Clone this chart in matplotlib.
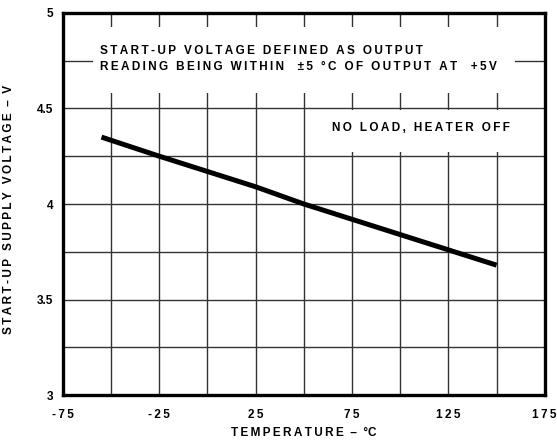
import matplotlib.pyplot as plt
from matplotlib.patches import Rectangle

# start-up supply voltage vs temperature
temps = [-55, -25, 0, 25, 50, 75, 100, 125, 150]
volts = [4.35, 4.25, 4.17, 4.09, 4.00, 3.92, 3.84, 3.76, 3.68]

x_ticks = [-75, -25, 25, 75, 125, 175]
x_labels = ['-75', '-25', '25', '75', '125', '175']
y_ticks = [3, 3.5, 4, 4.5, 5]
y_labels = ['3', '3.5', '4', '4.5', '5']

plt.rcParams['font.family'] = ['Liberation Sans', 'DejaVu Sans']
plt.rcParams['font.weight'] = 'bold'


def spaced(s):
    # wide letter spacing like the datasheet font
    return '\u2009'.join(s)


fig = plt.figure(figsize=(5.57, 4.43), dpi=100)
ax = fig.add_axes([0.113, 0.108, 0.865, 0.863])

ax.set_xlim(-75, 175)
ax.set_ylim(3, 5)

# grid every 25 degC / 0.25 V
for gx in range(-50, 175, 25):
    ax.axvline(gx, color='#333333', lw=1.0, zorder=1)
for gy in [3.25, 3.5, 3.75, 4.0, 4.25, 4.5, 4.75]:
    ax.axhline(gy, color='#333333', lw=1.0, zorder=1)

# white boxes behind the notes (blank out grid)
ax.add_patch(Rectangle((0.062, 0.79), 0.876, 0.173, transform=ax.transAxes,
                       facecolor='white', edgecolor='none', zorder=2))
ax.add_patch(Rectangle((0.537, 0.636), 0.47, 0.11, transform=ax.transAxes,
                       facecolor='white', edgecolor='none', zorder=2))

ax.plot(temps, volts, color='black', lw=3.6, solid_capstyle='butt', zorder=3)

note1 = spaced('START-UP VOLTAGE DEFINED AS OUTPUT') + '\n' + \
    spaced('READING BEING WITHIN  \u00b15 \u00b0C OF OUTPUT AT  +5V')
ax.text(0.076, 0.88, note1, transform=ax.transAxes, fontsize=8.5,
        fontweight='bold', va='center', ha='left', linespacing=1.45, zorder=4)
ax.text(0.558, 0.699, spaced('NO LOAD, HEATER OFF'), transform=ax.transAxes,
        fontsize=8.5, fontweight='bold', va='center', ha='left', zorder=4)

ax.set_xticks(x_ticks)
ax.set_xticklabels([spaced(t) for t in x_labels], fontsize=8.5, fontweight='bold')
ax.set_yticks(y_ticks)
ax.set_yticklabels(y_labels, fontsize=8.5, fontweight='bold')
ax.tick_params(axis='x', length=0, pad=10)
ax.tick_params(axis='y', length=0, pad=7)

ax.set_xlabel(spaced('TEMPERATURE') + '  \u2013  \u00b0C', fontsize=8.5,
              fontweight='bold', labelpad=4)
ax.set_ylabel(spaced('START-UP SUPPLY VOLTAGE') + '  \u2013  V', fontsize=8.5,
              fontweight='bold')
ax.yaxis.set_label_coords(-0.1, 0.487)

for sp in ax.spines.values():
    sp.set_linewidth(2.4)
    sp.set_zorder(5)

fig.savefig('out.png', dpi=100)
